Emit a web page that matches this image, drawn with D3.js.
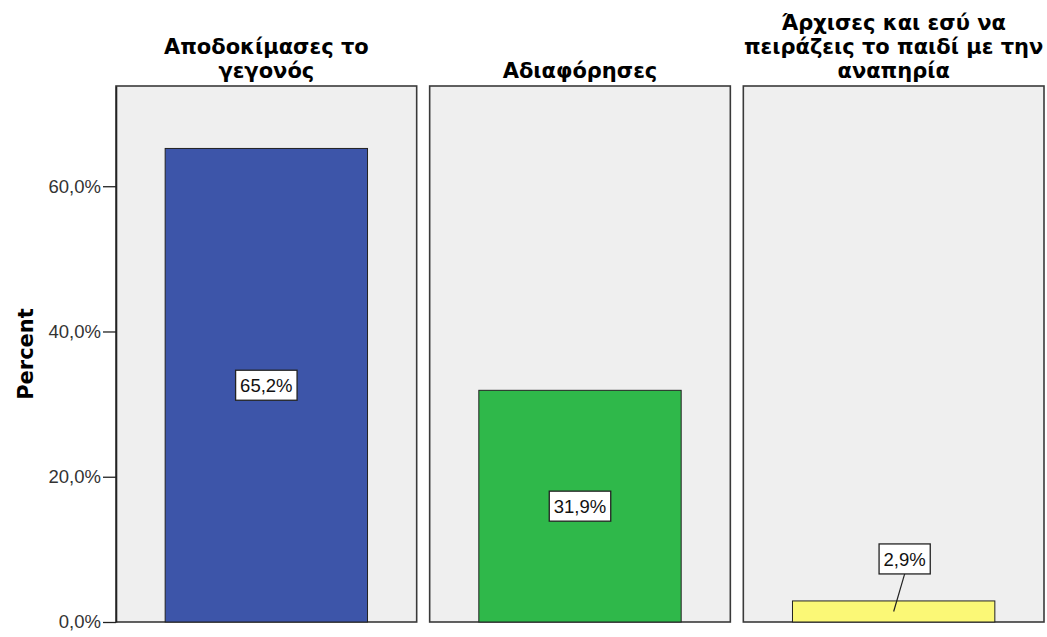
<!DOCTYPE html>
<html>
<head>
<meta charset="utf-8">
<script src="https://cdn.jsdelivr.net/npm/d3@7"></script>
<style>
  body { margin: 0; background: #fff; }
  text { font-family: "Liberation Sans", Arial, sans-serif; }
</style>
</head>
<body>
<div id="chart"></div>
<script>
// data
const categories = ["Αποδοκίμασες το γεγονός", "Αδιαφόρησες", "Άρχισες και εσύ να πειράζεις το παιδί με την αναπηρία"];
const titleLines = [
  ["Αποδοκίμασες το", "γεγονός"],
  ["Αδιαφόρησες"],
  ["Άρχισες και εσύ να", "πειράζεις το παιδί με την", "αναπηρία"]
];
const percents = [65.2, 31.9, 2.9];
const yTicks = [0, 20, 40, 60];
const barColors = ["#3d55a9", "#2fb84a", "#fbf876"];

var w = 1047;
var h = 637;
var margin = { top: 86, right: 3, bottom: 15, left: 116 };

var svg = d3
  .select("#chart")
  .append("svg")
  .attr("width", w)
  .attr("height", h);

// scales
var x = d3
  .scaleBand()
  .domain(categories)
  .range([margin.left, w - margin.right])
  .paddingInner(0.0414);

var y = d3
  .scaleLinear()
  .domain([0, 73.8])
  .range([h - margin.bottom, margin.top]);

var fmt = (v) => d3.format(".1f")(v).replace(".", ",") + "%";

// panels
var panel = svg
  .selectAll(".panel")
  .data(categories)
  .enter()
  .append("g")
  .attr("class", "panel")
  .attr("transform", (d) => "translate(" + x(d) + ",0)");

panel
  .append("rect")
  .attr("x", 0)
  .attr("y", y.range()[1])
  .attr("width", x.bandwidth())
  .attr("height", y.range()[0] - y.range()[1])
  .attr("fill", "#efefef")
  .attr("stroke", "#3a3a3a")
  .attr("stroke-width", 1.6);

// panel titles
panel.each(function (d, i) {
  var lines = titleLines[i];
  var t = d3
    .select(this)
    .append("text")
    .attr("text-anchor", "middle")
    .style("font-family", "'DejaVu Sans', sans-serif")
    .attr("font-weight", "bold")
    .attr("font-size", 21)
    .attr("fill", "#000");
  lines.forEach((line, k) => {
    t.append("tspan")
      .attr("x", x.bandwidth() / 2)
      .attr("y", 78 - (lines.length - 1 - k) * 24)
      .text(line);
  });
});

// bars
var barW = x.bandwidth() * 0.673;
var barOff = (x.bandwidth() - barW) / 2;

panel
  .append("rect")
  .attr("x", barOff)
  .attr("y", (d, i) => y(percents[i]))
  .attr("width", barW)
  .attr("height", (d, i) => y(0) - y(percents[i]))
  .attr("fill", (d, i) => barColors[i])
  .attr("stroke", "#222")
  .attr("stroke-width", 1);

// value labels
panel.each(function (d, i) {
  var g = d3.select(this);
  var v = percents[i];
  var cx = x.bandwidth() / 2;
  var cy = (y(v) + y(0)) / 2;
  var small = y(0) - y(v) < 40;
  var lx = small ? cx + 11 : cx;
  var ly = small ? y(v) - 42 : cy;
  if (small) {
    g.append("line")
      .attr("x1", lx)
      .attr("y1", ly + 15)
      .attr("x2", cx)
      .attr("y2", cy)
      .attr("stroke", "#222")
      .attr("stroke-width", 1.2);
  }
  var txt = g
    .append("text")
    .attr("x", lx)
    .attr("y", ly)
    .attr("dy", "0.36em")
    .attr("text-anchor", "middle")
    .attr("font-size", 18.5)
    .attr("fill", "#111")
    .text(fmt(v));
  var tw = txt.node().getComputedTextLength();
  g.insert("rect", "text:last-of-type")
    .attr("x", lx - tw / 2 - 4.5)
    .attr("y", ly - 15)
    .attr("width", tw + 9)
    .attr("height", 30)
    .attr("fill", "#fff")
    .attr("stroke", "#222")
    .attr("stroke-width", 1.3);
});

// y axis
var yAxis = svg
  .append("g")
  .attr("transform", "translate(" + margin.left + ",0)")
  .call(
    d3
      .axisLeft(y)
      .tickValues(yTicks)
      .tickSize(13)
      .tickSizeOuter(0)
      .tickPadding(2)
      .tickFormat(fmt)
  );
yAxis.select(".domain").attr("stroke", "#222").attr("stroke-width", 1.6);
yAxis.selectAll(".tick line").attr("stroke", "#222").attr("stroke-width", 1.3);
yAxis
  .selectAll(".tick text")
  .style("font-family", "'Liberation Sans', Arial, sans-serif")
  .attr("font-size", 18.5)
  .attr("fill", "#333");

// y axis title
svg
  .append("text")
  .attr("transform", "translate(33," + (y(36.9)) + ") rotate(-90)")
  .attr("text-anchor", "middle")
  .style("font-family", "'DejaVu Sans', sans-serif")
  .attr("font-weight", "bold")
  .attr("font-size", 21)
  .text("Percent");
</script>
</body>
</html>
